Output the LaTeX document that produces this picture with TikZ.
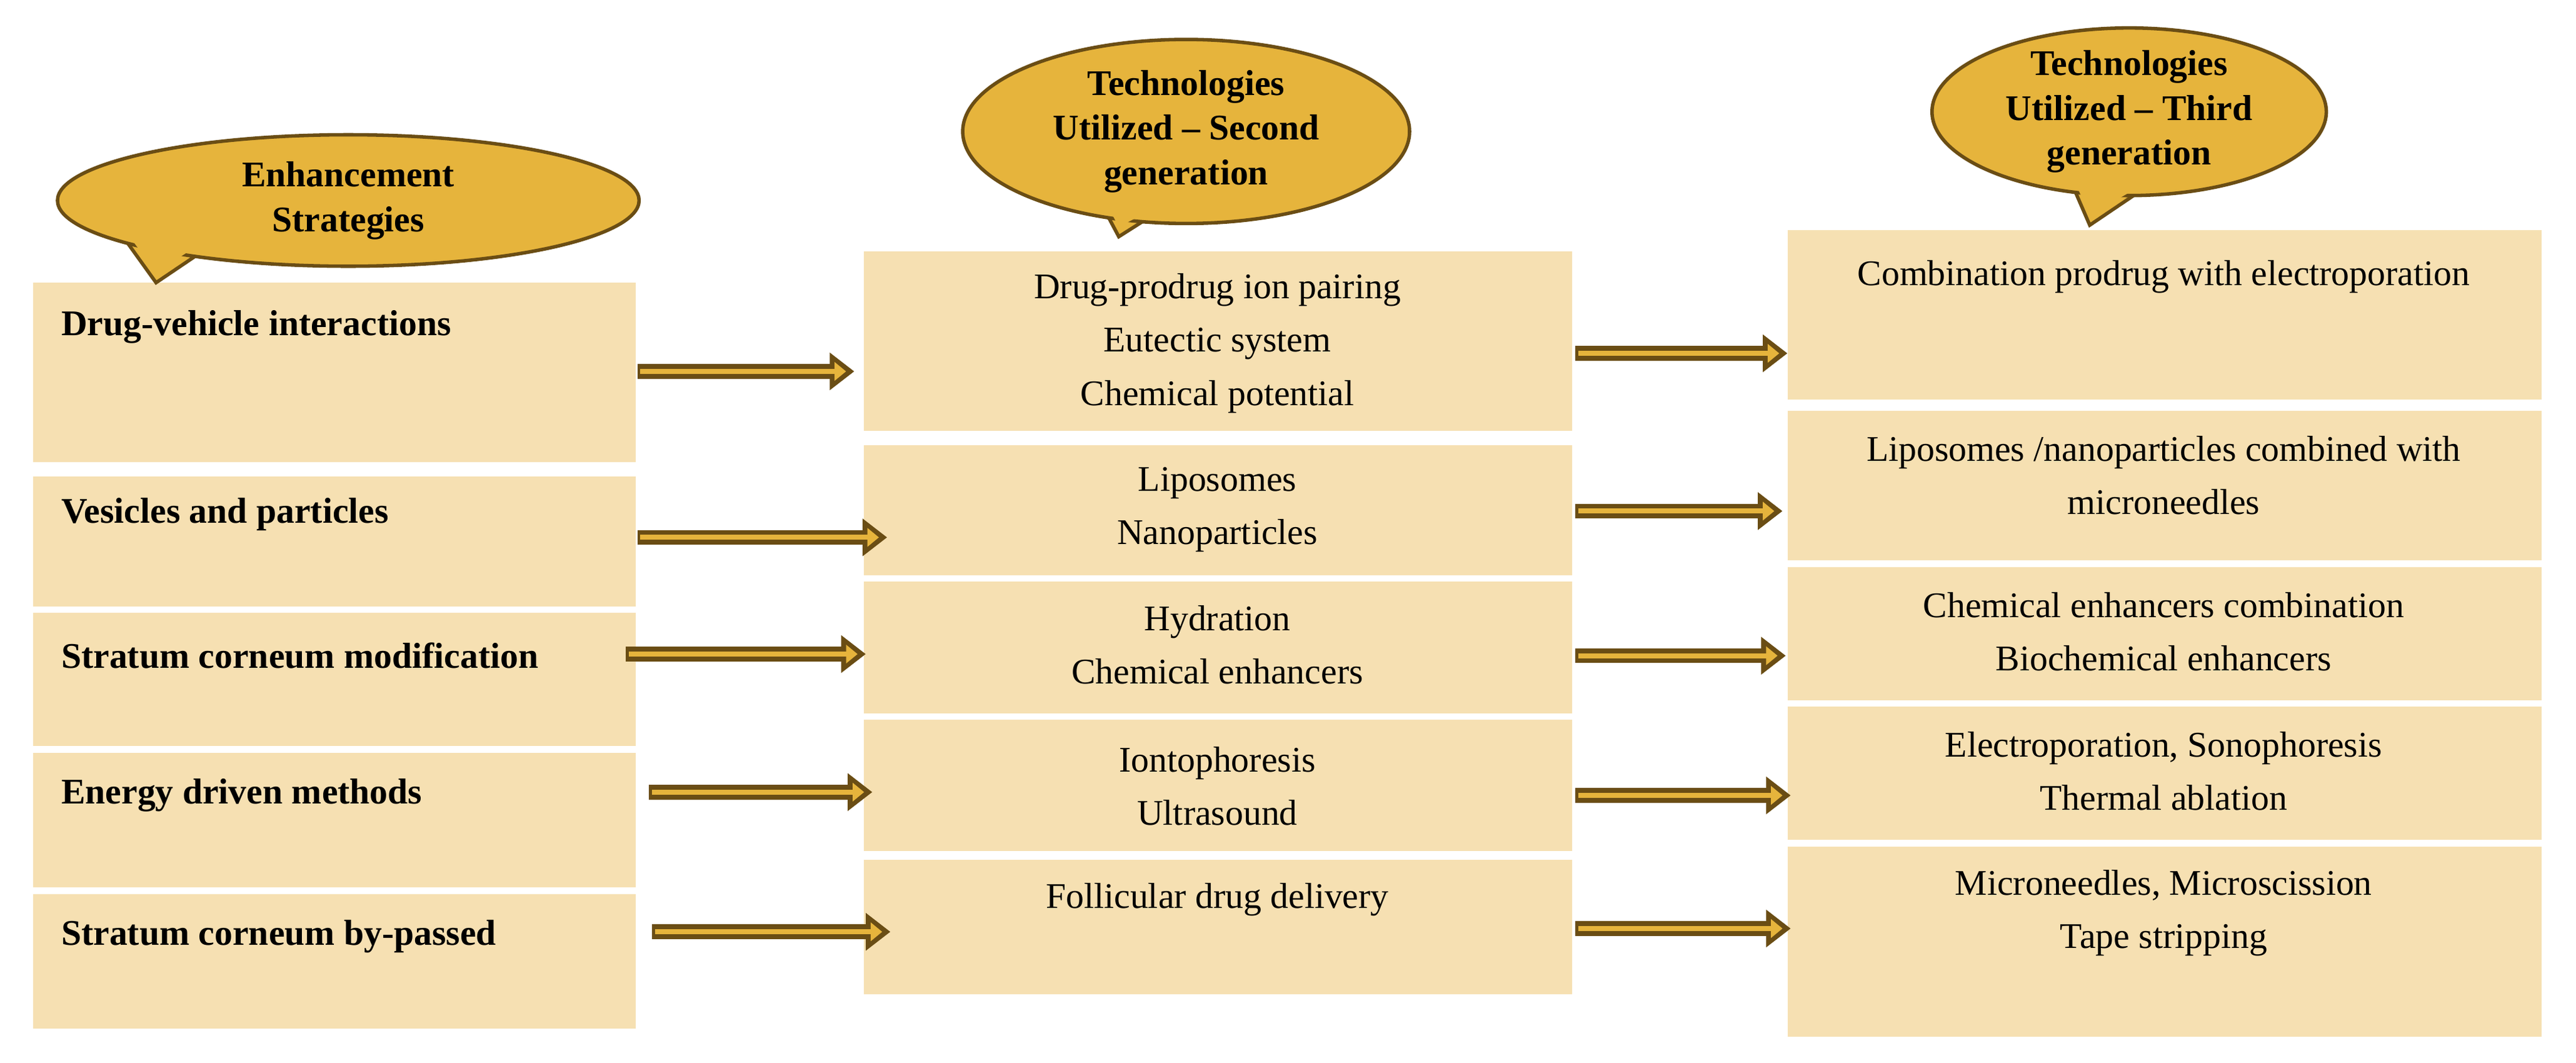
\documentclass[tikz,border=0pt]{standalone}
\usepackage{fontspec}
\setmainfont{Liberation Serif}
\usetikzlibrary{shapes.geometric,arrows.meta}
\definecolor{boxc}{HTML}{F6E0B2}
\definecolor{gold}{HTML}{E6B43C}
\definecolor{dbrown}{HTML}{6A4D14}
\begin{document}
\begin{tikzpicture}[x=0.02cm,y=-0.02cm,
  box/.style={fill=boxc,draw=none,anchor=north west,inner sep=0,outer sep=0},
  txt/.style={font=\fontsize{12.5}{18.5}\selectfont,align=center,anchor=north,inner sep=0},
  ltxt/.style={font=\bfseries\fontsize{12.5}{18.5}\selectfont,anchor=west,inner sep=0},
  bub/.style={ellipse,fill=gold,draw=dbrown,line width=1.2pt,inner sep=0},
  btxt/.style={font=\bfseries\fontsize{12.5}{15.5}\selectfont,align=center,inner sep=0},
  tail/.style={fill=gold,draw=dbrown,line width=1.2pt,line join=miter},
  arrout/.style={dbrown,line width=0.18cm,-{Triangle[length=0.3cm,width=0.44cm]}},
  arrin/.style={gold,line width=0.06cm,shorten <=1pt,shorten >=0.1cm,-{Triangle[length=0.14cm,width=0.22cm]}}]
\useasboundingbox (0,0) rectangle (1568,646.5);
% boxes
\foreach \n/\y/\h in {1/172/109,2/290/79,3/373/81,4/458/82,5/544/82}{
  \node[box,minimum width=367*0.02cm,minimum height=\h*0.02cm] (L\n) at (20,\y) {};}
\foreach \n/\y/\h in {1/153/109,2/271/79,3/354/80,4/438/80,5/523/82}{
  \node[box,minimum width=431*0.02cm,minimum height=\h*0.02cm] (M\n) at (526,\y) {};}
\foreach \n/\y/\h in {1/140/103,2/250/91,3/345/81,4/430/81,5/515/116}{
  \node[box,minimum width=459*0.02cm,minimum height=\h*0.02cm] (R\n) at (1088,\y) {};}
% left texts
\node[ltxt] (lt1) at (37,199) {Drug-vehicle interactions};
\node[ltxt] (lt2) at (37,313) {Vesicles and particles};
\node[ltxt] (lt3) at (37,399) {Stratum corneum modification};
\node[ltxt] (lt4) at (37,484) {Energy driven methods};
\node[ltxt] (lt5) at (37,570) {Stratum corneum by-passed};
% middle texts
\node[txt] (mt1) at (741,166) {Drug-prodrug ion pairing\\Eutectic system\\Chemical potential};
\node[txt] (mt2) at (741,284) {Liposomes\\Nanoparticles};
\node[txt] (mt3) at (741,368) {Hydration\\Chemical enhancers};
\node[txt] (mt4) at (741,454) {Iontophoresis\\Ultrasound};
\node[txt] (mt5) at (741,537) {Follicular drug delivery};
% right texts
\node[txt] (rt1) at (1317,158) {Combination prodrug with electroporation};
\node[txt] (rt2) at (1317,265) {Liposomes /nanoparticles combined with\\microneedles};
\node[txt] (rt3) at (1317,360) {Chemical enhancers combination\\Biochemical enhancers};
\node[txt] (rt4) at (1317,445) {Electroporation, Sonophoresis\\Thermal ablation};
\node[txt] (rt5) at (1317,529) {Microneedles, Microscission\\Tape stripping};
% arrows
\foreach \i/\xa/\xb/\y in {1/388/520/226,2/388/540/327,3/381/527/398,4/395/531/482,5/397/542/567,
  6/959/1088/215,7/959/1085/311,8/959/1087/399,9/959/1090/484,10/959/1090/565}{
  \coordinate (s\i) at (\xa,\y); \coordinate (e\i) at (\xb,\y);
  \draw[arrout] (s\i) -- (e\i);
  \draw[arrin] (s\i) -- (e\i);}
% callouts
\draw[tail] (72,140) -- (95,172) -- (135,145) -- cycle;
\node[bub,minimum width=354*0.02cm,minimum height=80*0.02cm] (b1) at (212,122) {};
\fill[gold] (76,140) -- (95,166) -- (130,143) -- cycle;
\node[btxt] (bt1) at (212,122) {Enhancement\\Strategies};
\draw[tail] (664,112) -- (681,144) -- (722,118) -- cycle;
\node[bub,minimum width=272*0.02cm,minimum height=112*0.02cm] (b2) at (722,80) {};
\fill[gold] (668,114) -- (681,138) -- (716,120) -- (690,105) -- cycle;
\node[btxt] (bt2) at (722,80) {Technologies\\Utilized -- Second\\generation};
\draw[tail] (1256,100) -- (1272,137) -- (1312,110) -- cycle;
\node[bub,minimum width=240*0.02cm,minimum height=102*0.02cm] (b3) at (1296,68) {};
\fill[gold] (1260,104) -- (1272,131) -- (1305,112) -- (1285,95) -- cycle;
\node[btxt] (bt3) at (1296,68) {Technologies\\Utilized -- Third\\generation};
\end{tikzpicture}
\end{document}
